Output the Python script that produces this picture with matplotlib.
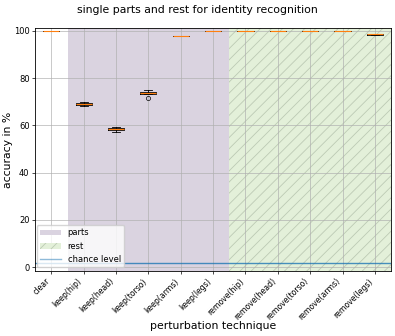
import numpy as np
import matplotlib
matplotlib.use("Agg")
from matplotlib import pyplot as plt
from matplotlib.patches import Patch
from matplotlib.lines import Line2D

techniques = ['clear', 'keep(hip)', 'keep(head)', 'keep(torso)', 'keep(arms)',
              'keep(legs)', 'remove(hip)', 'remove(head)', 'remove(torso)',
              'remove(arms)', 'remove(legs)']

# accuracy per run (%)
acc_clear = [100.0, 100.0, 100.0, 100.0, 100.0]
acc_keep_hip = [68.4, 68.8, 69.1, 69.5, 69.9]
acc_keep_head = [57.4, 58.0, 58.5, 58.9, 59.4]
acc_keep_torso = [71.6, 73.4, 73.8, 74.2, 74.9]
acc_keep_arms = [97.7, 97.8, 97.8, 97.9, 97.9]
acc_keep_legs = [100.0, 100.0, 100.0, 100.0, 100.0]
acc_remove_hip = [100.0, 100.0, 100.0, 100.0, 100.0]
acc_remove_head = [100.0, 100.0, 100.0, 100.0, 100.0]
acc_remove_torso = [100.0, 100.0, 100.0, 100.0, 100.0]
acc_remove_arms = [100.0, 100.0, 100.0, 100.0, 100.0]
acc_remove_legs = [98.3, 98.5, 98.6, 98.7, 98.9]

chance = 1.7

data = [acc_clear, acc_keep_hip, acc_keep_head, acc_keep_torso, acc_keep_arms,
        acc_keep_legs, acc_remove_hip, acc_remove_head, acc_remove_torso,
        acc_remove_arms, acc_remove_legs]

plt.rcParams['hatch.color'] = '#bccab4'
plt.rcParams['hatch.linewidth'] = 0.6

fig = plt.figure(figsize=(3.95, 3.36), dpi=100)
ax = fig.add_axes([0.089, 0.193, 0.901, 0.724])

parts_col = '#dad3e0'
rest_col = '#e3f0d9'
ax.axvspan(0.5, 5.5, facecolor=parts_col, edgecolor='none', zorder=0)
ax.axvspan(5.5, 10.5, facecolor=rest_col, hatch='///', linewidth=0, zorder=0)

pos = np.arange(len(techniques))
ax.boxplot(data, positions=pos, widths=0.5,
           boxprops=dict(linewidth=0.6),
           whiskerprops=dict(linewidth=0.6),
           capprops=dict(linewidth=0.6),
           medianprops=dict(color='C1', linewidth=0.8, zorder=3),
           flierprops=dict(marker='o', markersize=3, markeredgewidth=0.5))
ax.axhline(chance, color='C0', alpha=0.8, linewidth=1)

ax.set_xlim(-0.5, 10.5)
ax.set_ylim(-1.7, 101.3)
ax.set_xticks(pos)
ax.set_xticklabels(techniques, rotation=45, ha='right', fontsize=5.6)
ax.set_yticks([0, 20, 40, 60, 80, 100])
ax.tick_params(axis='y', labelsize=6, length=2.5, width=0.5, pad=1.5)
ax.tick_params(axis='x', length=2.5, width=0.5, pad=1.5)
ax.grid(True, color='#b0b0b0', linewidth=0.6, alpha=0.8)
ax.set_axisbelow(True)
for s in ax.spines.values():
    s.set_linewidth(0.6)

ax.set_xlabel('perturbation technique', fontsize=7.8, va='center')
ax.xaxis.set_label_coords(0.5, -0.226)
ax.set_ylabel('accuracy in %', fontsize=7.8, va='center')
ax.yaxis.set_label_coords(-0.076, 0.5)
fig.suptitle('single parts and rest for identity recognition', fontsize=7.8, y=0.985)

handles = [Patch(facecolor=parts_col, label='parts'),
           Patch(facecolor=rest_col, hatch='///', linewidth=0, label='rest'),
           Line2D([], [], color='C0', alpha=0.5, linewidth=1, label='chance level')]
ax.legend(handles=handles, loc='lower left', fontsize=6, framealpha=0.8,
          bbox_to_anchor=(0.0, 0.01), borderaxespad=0.2, handlelength=2.5)

fig.savefig('out.png', dpi=100)
